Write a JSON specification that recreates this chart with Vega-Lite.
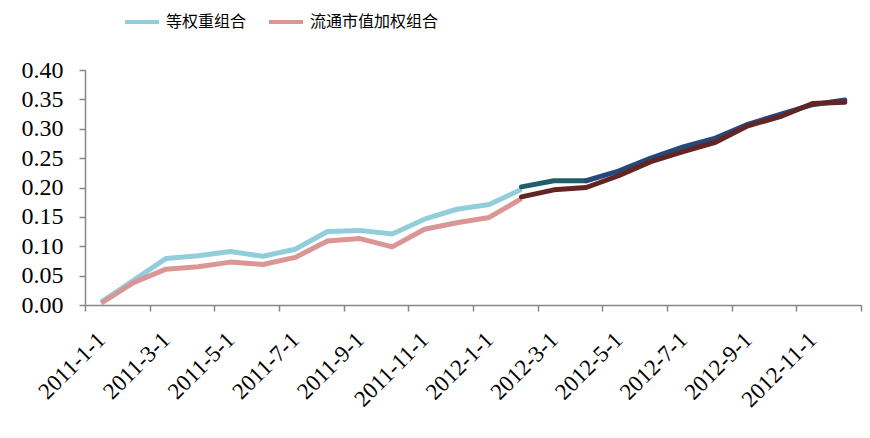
{
  "$schema": "https://vega.github.io/schema/vega-lite/v6.json",
  "autosize": {"type": "none"},
  "width": 776,
  "height": 235,
  "padding": {"left": 85, "top": 70, "right": 9, "bottom": 133},
  "background": "white",
  "config": {"view": {"stroke": null}, "font": "Liberation Serif"},
  "data": {"values": [
    {"month": "2011-1-1", "series": "等权重组合", "seg": "等权重组合", "value": 0.005},
    {"month": "2011-2-1", "series": "等权重组合", "seg": "等权重组合", "value": 0.042},
    {"month": "2011-3-1", "series": "等权重组合", "seg": "等权重组合", "value": 0.079},
    {"month": "2011-4-1", "series": "等权重组合", "seg": "等权重组合", "value": 0.084},
    {"month": "2011-5-1", "series": "等权重组合", "seg": "等权重组合", "value": 0.091},
    {"month": "2011-6-1", "series": "等权重组合", "seg": "等权重组合", "value": 0.083},
    {"month": "2011-7-1", "series": "等权重组合", "seg": "等权重组合", "value": 0.095},
    {"month": "2011-8-1", "series": "等权重组合", "seg": "等权重组合", "value": 0.125},
    {"month": "2011-9-1", "series": "等权重组合", "seg": "等权重组合", "value": 0.127},
    {"month": "2011-10-1", "series": "等权重组合", "seg": "等权重组合", "value": 0.121},
    {"month": "2011-11-1", "series": "等权重组合", "seg": "等权重组合", "value": 0.146},
    {"month": "2011-12-1", "series": "等权重组合", "seg": "等权重组合", "value": 0.163},
    {"month": "2012-1-1", "series": "等权重组合", "seg": "等权重组合", "value": 0.171},
    {"month": "2012-2-1", "series": "等权重组合", "seg": "等权重组合", "value": 0.197},
    {"month": "2011-1-1", "series": "流通市值加权组合", "seg": "流通市值加权组合", "value": 0.003},
    {"month": "2011-2-1", "series": "流通市值加权组合", "seg": "流通市值加权组合", "value": 0.038},
    {"month": "2011-3-1", "series": "流通市值加权组合", "seg": "流通市值加权组合", "value": 0.061},
    {"month": "2011-4-1", "series": "流通市值加权组合", "seg": "流通市值加权组合", "value": 0.065},
    {"month": "2011-5-1", "series": "流通市值加权组合", "seg": "流通市值加权组合", "value": 0.073},
    {"month": "2011-6-1", "series": "流通市值加权组合", "seg": "流通市值加权组合", "value": 0.069},
    {"month": "2011-7-1", "series": "流通市值加权组合", "seg": "流通市值加权组合", "value": 0.081},
    {"month": "2011-8-1", "series": "流通市值加权组合", "seg": "流通市值加权组合", "value": 0.109},
    {"month": "2011-9-1", "series": "流通市值加权组合", "seg": "流通市值加权组合", "value": 0.113},
    {"month": "2011-10-1", "series": "流通市值加权组合", "seg": "流通市值加权组合", "value": 0.099},
    {"month": "2011-11-1", "series": "流通市值加权组合", "seg": "流通市值加权组合", "value": 0.129},
    {"month": "2011-12-1", "series": "流通市值加权组合", "seg": "流通市值加权组合", "value": 0.140},
    {"month": "2012-1-1", "series": "流通市值加权组合", "seg": "流通市值加权组合", "value": 0.149},
    {"month": "2012-2-1", "series": "流通市值加权组合", "seg": "流通市值加权组合", "value": 0.181},
    {"month": "2012-2-1", "series": "等权重组合", "seg": "A", "value": 0.201},
    {"month": "2012-3-1", "series": "等权重组合", "seg": "A", "value": 0.2115},
    {"month": "2012-4-1", "series": "等权重组合", "seg": "A", "value": 0.2115},
    {"month": "2012-4-1", "series": "等权重组合", "seg": "B", "value": 0.2115},
    {"month": "2012-5-1", "series": "等权重组合", "seg": "B", "value": 0.228},
    {"month": "2012-6-1", "series": "等权重组合", "seg": "B", "value": 0.25},
    {"month": "2012-7-1", "series": "等权重组合", "seg": "B", "value": 0.269},
    {"month": "2012-8-1", "series": "等权重组合", "seg": "B", "value": 0.284},
    {"month": "2012-9-1", "series": "等权重组合", "seg": "B", "value": 0.3075},
    {"month": "2012-10-1", "series": "等权重组合", "seg": "B", "value": 0.3245},
    {"month": "2012-11-1", "series": "等权重组合", "seg": "B", "value": 0.341},
    {"month": "2012-12-1", "series": "等权重组合", "seg": "B", "value": 0.349},
    {"month": "2012-2-1", "series": "流通市值加权组合", "seg": "C", "value": 0.184},
    {"month": "2012-3-1", "series": "流通市值加权组合", "seg": "C", "value": 0.196},
    {"month": "2012-4-1", "series": "流通市值加权组合", "seg": "C", "value": 0.2},
    {"month": "2012-5-1", "series": "流通市值加权组合", "seg": "C", "value": 0.22},
    {"month": "2012-6-1", "series": "流通市值加权组合", "seg": "C", "value": 0.244},
    {"month": "2012-7-1", "series": "流通市值加权组合", "seg": "C", "value": 0.261},
    {"month": "2012-8-1", "series": "流通市值加权组合", "seg": "C", "value": 0.277},
    {"month": "2012-9-1", "series": "流通市值加权组合", "seg": "C", "value": 0.305},
    {"month": "2012-10-1", "series": "流通市值加权组合", "seg": "C", "value": 0.3205},
    {"month": "2012-11-1", "series": "流通市值加权组合", "seg": "C", "value": 0.343},
    {"month": "2012-12-1", "series": "流通市值加权组合", "seg": "C", "value": 0.345}
  ]},
  "encoding": {
    "x": {
      "field": "month",
      "type": "ordinal",
      "scale": {
        "type": "band",
        "paddingInner": 0,
        "paddingOuter": 0,
        "domain": ["2011-1-1","2011-2-1","2011-3-1","2011-4-1","2011-5-1","2011-6-1","2011-7-1","2011-8-1","2011-9-1","2011-10-1","2011-11-1","2011-12-1","2012-1-1","2012-2-1","2012-3-1","2012-4-1","2012-5-1","2012-6-1","2012-7-1","2012-8-1","2012-9-1","2012-10-1","2012-11-1","2012-12-1"]
      },
      "axis": {
        "title": null,
        "tickBand": "extent",
        "domainColor": "#878787",
        "domainWidth": 1.5,
        "tickColor": "#878787",
        "tickWidth": 1.5,
        "tickSize": 6,
        "tickOpacity": {"condition": {"test": "datum.extra || indexof(['2011-2-1','2011-4-1','2011-6-1','2011-8-1','2011-10-1','2011-12-1','2012-2-1','2012-4-1','2012-6-1','2012-8-1','2012-10-1','2012-12-1'], datum.value) >= 0", "value": 1}, "value": 0},
        "labelExpr": "indexof(['2011-1-1','2011-3-1','2011-5-1','2011-7-1','2011-9-1','2011-11-1','2012-1-1','2012-3-1','2012-5-1','2012-7-1','2012-9-1','2012-11-1'], datum.value) >= 0 ? datum.label : ''",
        "labelAngle": -45,
        "labelAlign": "right",
        "labelBaseline": "middle",
        "labelFont": "Liberation Serif",
        "labelFontSize": 23,
        "labelColor": "#000000",
        "labelPadding": 25,
        "labelOverlap": false,
        "labelBound": false,
        "labelFlush": false
      }
    },
    "y": {
      "field": "value",
      "type": "quantitative",
      "scale": {"domain": [0, 0.4], "nice": false, "zero": true},
      "axis": {
        "title": null,
        "values": [0, 0.05, 0.1, 0.15, 0.2, 0.25, 0.3, 0.35, 0.4],
        "format": ".2f",
        "grid": false,
        "domainColor": "#878787",
        "domainWidth": 1.5,
        "tickColor": "#878787",
        "tickWidth": 1.5,
        "tickSize": 6,
        "labelFont": "Liberation Serif",
        "labelFontSize": 24,
        "labelColor": "#000000",
        "labelPadding": 16,
        "labelOverlap": false,
        "labelBound": false,
        "labelFlush": false
      }
    }
  },
  "layer": [
    {
      "transform": [{"filter": "datum.seg == datum.series"}],
      "mark": {"type": "line", "strokeWidth": 5, "strokeJoin": "round", "strokeCap": "butt"},
      "encoding": {
        "color": {
          "field": "series",
          "type": "nominal",
          "scale": {"domain": ["等权重组合", "流通市值加权组合"], "range": ["#92CDDC", "#D99694"]},
          "legend": {
            "title": null,
            "orient": "none",
            "legendX": 38,
            "legendY": -67,
            "direction": "horizontal",
            "symbolType": "stroke",
            "symbolSize": 1156,
            "symbolStrokeWidth": 4,
            "labelFont": "Noto Sans CJK SC",
            "labelFontSize": 16,
            "labelColor": "#000000",
            "labelOffset": 5,
            "columnPadding": 14
          }
        }
      }
    },
    {
      "transform": [{"filter": "datum.seg != datum.series"}],
      "mark": {"type": "line", "strokeWidth": 5, "strokeJoin": "round", "strokeCap": "round"},
      "encoding": {
        "stroke": {
          "field": "seg",
          "type": "nominal",
          "scale": {"domain": ["A", "B", "C"], "range": ["#215E6A", "#24497A", "#632523"]},
          "legend": null
        }
      }
    }
  ]
}
